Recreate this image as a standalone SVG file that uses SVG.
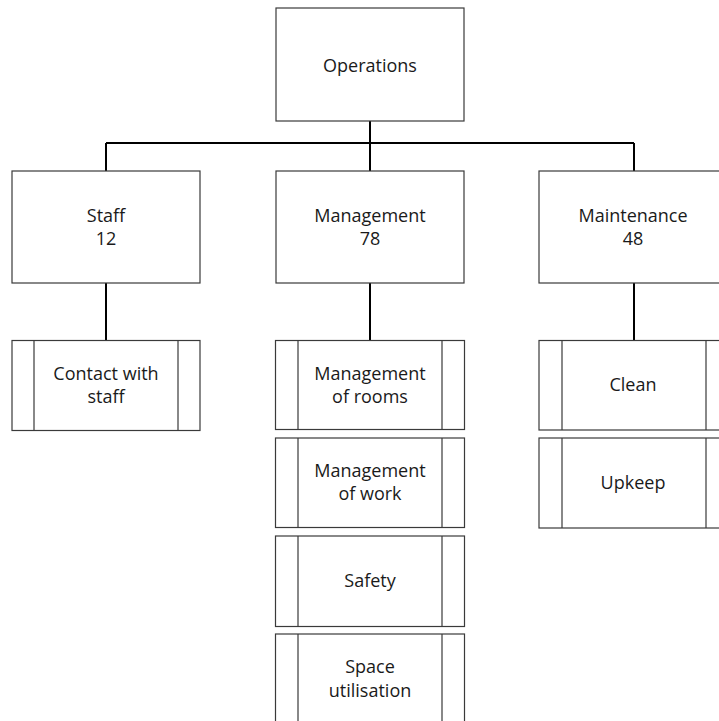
<svg xmlns="http://www.w3.org/2000/svg" width="719" height="721" viewBox="0 0 719 721">
  <style>
    .box { fill: #ffffff; stroke: #3a3a3a; stroke-width: 1.2; }
    .bar { fill: none; stroke: #3a3a3a; stroke-width: 1.2; }
    .wire { fill: none; stroke: #000000; stroke-width: 2; }
    text { font-family: "Open Sans", "Noto Sans", sans-serif; font-size: 18px; fill: #1a1a1a; text-anchor: middle; }
  </style>
  <rect width="719" height="721" fill="#ffffff"/>

  <g id="connectors">
    <path class="wire" d="M370,121 V171"/>
    <path class="wire" d="M106,143 H634"/>
    <path class="wire" d="M106,143 V171"/>
    <path class="wire" d="M634,143 V171"/>
    <path class="wire" d="M106,283 V340"/>
    <path class="wire" d="M370,283 V340"/>
    <path class="wire" d="M634,283 V340"/>
  </g>

  <g id="operations">
    <rect class="box" x="276" y="8" width="188" height="113"/>
    <text x="370" y="72">Operations</text>
  </g>

  <g id="staff">
    <rect class="box" x="12" y="171" width="188" height="112"/>
    <text x="106" y="222">Staff</text>
    <text x="106" y="245">12</text>
  </g>
  <g id="management">
    <rect class="box" x="276" y="171" width="188" height="112"/>
    <text x="370" y="222">Management</text>
    <text x="370" y="245">78</text>
  </g>
  <g id="maintenance">
    <rect class="box" x="539" y="171" width="188" height="112"/>
    <text x="633" y="222">Maintenance</text>
    <text x="633" y="245">48</text>
  </g>

  <g id="contact-with-staff">
    <rect class="box" x="12" y="340.5" width="188" height="90"/>
    <path class="bar" d="M34,340.5 V430.5 M178,340.5 V430.5"/>
    <text x="106" y="380">Contact with</text>
    <text x="106" y="403">staff</text>
  </g>

  <g id="management-of-rooms">
    <rect class="box" x="275.5" y="340.5" width="189" height="89"/>
    <path class="bar" d="M298,340.5 V429.5 M442,340.5 V429.5"/>
    <text x="370" y="380">Management</text>
    <text x="370" y="403">of rooms</text>
  </g>
  <g id="management-of-work">
    <rect class="box" x="275.5" y="438" width="189" height="89.5"/>
    <path class="bar" d="M298,438 V527.5 M442,438 V527.5"/>
    <text x="370" y="477">Management</text>
    <text x="370" y="500">of work</text>
  </g>
  <g id="safety">
    <rect class="box" x="275.5" y="536" width="189" height="90.5"/>
    <path class="bar" d="M298,536 V626.5 M442,536 V626.5"/>
    <text x="370" y="587">Safety</text>
  </g>
  <g id="space-utilisation">
    <rect class="box" x="275.5" y="634" width="189" height="100"/>
    <path class="bar" d="M298,634 V734 M442,634 V734"/>
    <text x="370" y="673">Space</text>
    <text x="370" y="697">utilisation</text>
  </g>

  <g id="clean">
    <rect class="box" x="539" y="340.5" width="188" height="89.5"/>
    <path class="bar" d="M562,340.5 V430 M706,340.5 V430"/>
    <text x="633" y="391">Clean</text>
  </g>
  <g id="upkeep">
    <rect class="box" x="539" y="438" width="188" height="90"/>
    <path class="bar" d="M562,438 V528 M706,438 V528"/>
    <text x="633" y="489">Upkeep</text>
  </g>
</svg>
